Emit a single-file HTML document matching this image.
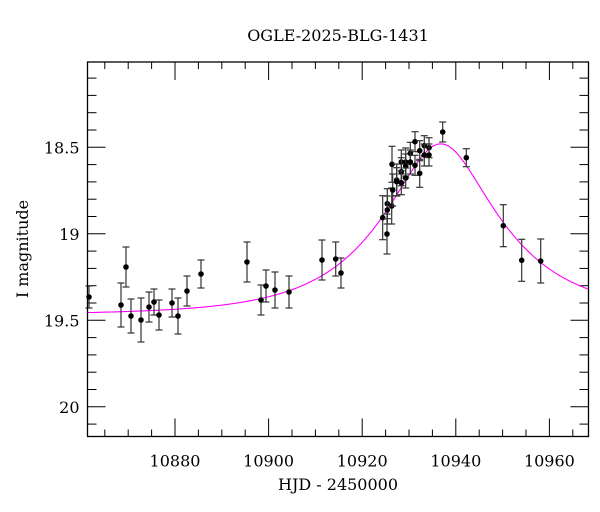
<!DOCTYPE html>
<html><head><meta charset="utf-8"><style>
html,body{margin:0;padding:0;background:#fff;}
svg{display:block;font-family:"DejaVu Serif","Liberation Serif",serif;}
</style></head><body>
<svg id="s" width="600" height="512" xmlns="http://www.w3.org/2000/svg">
<rect x="0" y="0" width="600" height="512" fill="#fff"/>
<text x="338" y="41" font-size="16" text-anchor="middle">OGLE-2025-BLG-1431</text>
<text x="338" y="490" font-size="16" text-anchor="middle">HJD - 2450000</text>
<text transform="translate(28,249) rotate(-90)" font-size="16" text-anchor="middle">I magnitude</text>
<g id="ax"></g>
<path id="curve" fill="none" stroke="#ff00ff" stroke-width="1.1"/>
<g id="pts"></g>
<rect x="87.5" y="62" width="501" height="374.5" fill="none" stroke="#000" stroke-width="1.3"/>
</svg>
<script>
var L=87.5,R=588.5,T=62,B=436.5;
function X(t){return 175+(t-10880)*4.68;}
function Y(m){return 147.3+(m-18.5)*173;}
var ax=document.getElementById('ax'),h='';
for(var t=10865;t<=10965;t+=5){var x=X(t),maj=(t%20==0),l=maj?18:7;
h+='<line x1="'+x+'" y1="'+B+'" x2="'+x+'" y2="'+(B-l)+'" stroke="#000"/>';
h+='<line x1="'+x+'" y1="'+T+'" x2="'+x+'" y2="'+(T+l)+'" stroke="#000"/>';
if(maj)h+='<text x="'+x+'" y="'+(B+30)+'" font-size="16" text-anchor="middle">'+t+'</text>';}
for(var i=81;i<=201;i++){var m=i/10,y=Y(m);if(y<T+1||y>B-1)continue;var maj=(i%5==0),l=maj?18:9;
h+='<line x1="'+L+'" y1="'+y+'" x2="'+(L+l)+'" y2="'+y+'" stroke="#000"/>';
h+='<line x1="'+R+'" y1="'+y+'" x2="'+(R-l)+'" y2="'+y+'" stroke="#000"/>';
if(maj)h+='<text x="'+(L-8)+'" y="'+(y+6)+'" font-size="16" text-anchor="end">'+(i%10==0?(i/10):m.toFixed(1))+'</text>';}
ax.innerHTML=h;
var t0=10936.8,tE=22.8,u0=0.43,base=19.468,d='';
for(var x=L;x<=R;x+=1){var t=10880+(x-175)/4.68,tau=(t-t0)/tE,u=Math.sqrt(u0*u0+tau*tau),A=(u*u+2)/(u*Math.sqrt(u*u+4));
var y=Y(base-2.5*Math.log10(A));d+=(x==L?'M':'L')+x.toFixed(1)+' '+y.toFixed(1);}
document.getElementById('curve').setAttribute('d',d);
var P=[[89,297,11],[121,305,22],[126,267,20],[131,316,17],[141,320,22],[149,307,15],[154,302,13],[159,315,15],[172,303,14],[178,316,18],[187,291,15],[201,274,14],[247,262,20],[261,300,15],[266,286,16],[275,290,18],[289,292,16],[322,260,20],[335.7,259,17],[341,273,15],
[382.7,217.7,22],[387.3,203.7,15],[387.3,210,14],[387,234,20],[391.7,206,18],[392,164.3,18],[392.7,190,16],[396.7,180,16],[396.7,181.7,14],[401.3,162,12],[401.3,171.7,14],[401.3,182.7,12],[405.7,162,14],[405.7,166,12],[405.7,178,10],[410.3,153.3,11],[410.3,162,12],[415,141.7,10],[415,165.3,10],[419.7,150.7,10],[419.7,173.3,14],[424.3,145.7,10],[424.3,155,11],[429,147.7,10],[429,155,11],[442.7,132,10],[466.3,157.7,9],[503.3,225.7,21],[521.7,260.3,21],[540.7,261,22]];
var g='';P.forEach(function(p){var x=p[0],y=p[1],e=p[2];
g+='<line x1="'+x+'" y1="'+(y-e)+'" x2="'+x+'" y2="'+(y+e)+'" stroke="#333" stroke-width="1.2"/>';
g+='<line x1="'+(x-3.5)+'" y1="'+(y-e)+'" x2="'+(x+3.5)+'" y2="'+(y-e)+'" stroke="#333" stroke-width="1.2"/>';
g+='<line x1="'+(x-3.5)+'" y1="'+(y+e)+'" x2="'+(x+3.5)+'" y2="'+(y+e)+'" stroke="#333" stroke-width="1.2"/>';
g+='<circle cx="'+x+'" cy="'+y+'" r="2.8" fill="#000"/>';});
document.getElementById('pts').innerHTML=g;
</script>
</body></html>
